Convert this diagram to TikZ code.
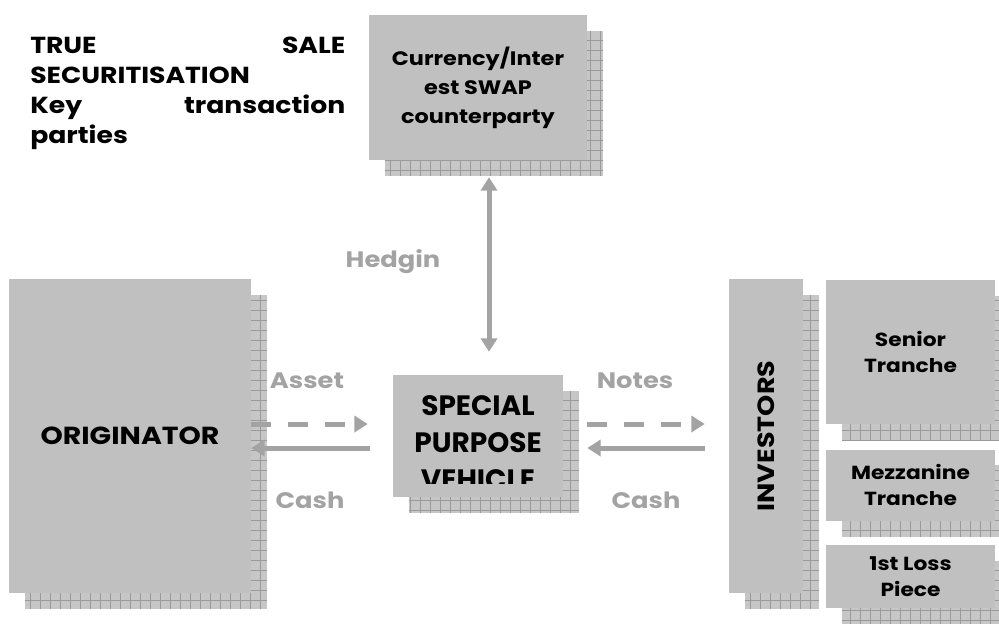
\documentclass[tikz,border=0pt]{standalone}
\usepackage{fontspec}
\setmainfont{Poppins}[FakeStretch=1.15]
\newfontfamily\spvfont{Poppins}
\usetikzlibrary{arrows.meta, positioning}
\pgfdeclarelayer{back}
\pgfsetlayers{back,main}
\definecolor{boxgray}{HTML}{C0C0C0}
\definecolor{arrowgray}{HTML}{A3A3A3}
\definecolor{gridfill}{HTML}{C6C6C6}
\definecolor{gridline}{HTML}{9A9A9A}

\begin{document}
\begin{tikzpicture}[x=0.75pt,y=-0.75pt,
  party/.style={fill=boxgray,inner sep=0pt,align=center,font=\bfseries\fontsize{18.5}{22}\selectfont},
  tranche/.style={party,minimum width=126.75pt,font=\bfseries\fontsize{14.2}{19.5}\selectfont},
  flow/.style={draw=arrowgray,line width=3.75pt,-{Triangle[width=12pt,length=10pt]}},
  flowlabel/.style={text=arrowgray,inner sep=0pt,font=\bfseries\fontsize{16.8}{19}\selectfont}]
\useasboundingbox (0,0) rectangle (999,626);

% title
\node[anchor=north west,text width=236.25pt,align=left,inner sep=0pt,
      font=\bfseries\fontsize{17.4}{22.5}\selectfont] (title) at (30,37)
  {TRUE\hfill SALE\\SECURITISATION\\Key\hfill transaction\\parties};

% parties
\node[party,minimum width=163.5pt,minimum height=108.75pt,
      font=\bfseries\fontsize{14.6}{21.75}\selectfont] (swap) at (478,87.5)
  {Currency/Inter\\est SWAP\\counterparty};
\node[party,minimum width=127.5pt,minimum height=91.5pt] (spv) at (478,436) {};
\node[party,minimum width=181.5pt,minimum height=235.5pt] (orig) at (130,436) {ORIGINATOR};
\node[party,minimum width=55.5pt,minimum height=235.5pt,
      font=\bfseries\fontsize{17.6}{22}\selectfont] (inv) at (766,436)
  {\rotatebox{90}{INVESTORS}};
\node[tranche,minimum height=108pt] (senior) at (910.5,352) {Senior\\Tranche};
\node[tranche,minimum height=53.25pt,below=18.75pt of senior] (mezz) {Mezzanine\\Tranche};
\node[tranche,minimum height=47.25pt,below=18pt of mezz] (loss) {1st Loss\\Piece};

% spv text runs past the box and is cut off
\begin{scope}
  \clip (spv.north west) rectangle ([yshift=10.5pt]spv.south east);
  \node[font=\spvfont\bfseries\fontsize{21}{27.75}\selectfont,align=center,inner sep=0pt]
    (spvtext) at ([shift={(0,7)}]spv.center) {SPECIAL\\PURPOSE\\VEHICLE};
\end{scope}

% hatched shadows
\begin{pgfonlayer}{back}
\foreach \n in {swap,spv,orig,inv,senior,mezz,loss}{
  \fill[gridfill] ([shift={(16,16)}]\n.north west) rectangle ([shift={(16,16)}]\n.south east);
  \draw[gridline,line width=0.5pt,step=7.5pt]
    ([shift={(16,16)}]\n.north west) grid ([shift={(16,16)}]\n.south east);
}
\end{pgfonlayer}

% flows
\draw[flow,{Triangle[width=12pt,length=10pt]}-{Triangle[width=12pt,length=10pt]}]
  ([shift={(11,17)}]swap.south) -- ([shift={(11,-23)}]spv.north);
\draw[flow,dash pattern=on 15pt off 12.75pt] ([shift={(0,-12)}]orig.east) -- ([shift={(-25,-12)}]spv.west);
\draw[flow] ([shift={(-23,12)}]spv.west) -- ([shift={(0,12)}]orig.east);
\draw[flow,dash pattern=on 15pt off 12.75pt] ([shift={(24,-12)}]spv.east) -- ([shift={(-24,-12)}]inv.west);
\draw[flow] ([shift={(-24,12)}]inv.west) -- ([shift={(24,12)}]spv.east);

\node[flowlabel] (hedge) at (393,262) {Hedgin};
\node[flowlabel] (asset) at (307,381) {Asset};
\node[flowlabel] (cashl) at (310,500) {Cash};
\node[flowlabel] (notes) at (635,381) {Notes};
\node[flowlabel] (cashr) at (646,500) {Cash};
\end{tikzpicture}
\end{document}
